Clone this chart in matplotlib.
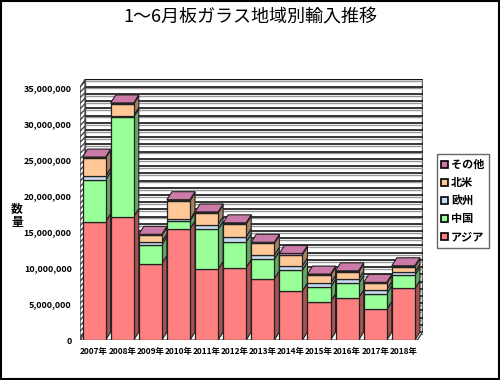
import matplotlib.pyplot as plt
from matplotlib.patches import Polygon, Rectangle
from matplotlib.ticker import FuncFormatter
import matplotlib.colors as mcolors

plt.rcParams['font.family'] = ['Noto Sans CJK JP', 'DejaVu Sans']

years = ['2007年', '2008年', '2009年', '2010年', '2011年', '2012年',
         '2013年', '2014年', '2015年', '2016年', '2017年', '2018年']
asia = [16400000, 17100000, 10600000, 15400000, 9800000, 10050000,
        8500000, 6800000, 5300000, 5850000, 4250000, 7150000]
china = [5800000, 13800000, 2600000, 1100000, 5550000, 3550000,
         2700000, 2900000, 2000000, 2000000, 2200000, 1850000]
europe = [500000, 200000, 400000, 200000, 650000, 700000,
          550000, 600000, 550000, 550000, 550000, 450000]
namerica = [2500000, 1600000, 900000, 2600000, 1600000, 1800000,
            1650000, 1550000, 1150000, 1050000, 850000, 700000]
other = [150000, 150000, 150000, 150000, 150000, 150000,
         150000, 150000, 150000, 150000, 150000, 150000]

series = [('アジア', asia, '#FF8080'),
          ('中国', china, '#99FF99'),
          ('欧州', europe, '#C8DCF0'),
          ('北米', namerica, '#FFC896'),
          ('その他', other, '#CC7AA8')]

def darker(c, f=0.65):
    r, g, b = mcolors.to_rgb(c)
    return (r * f, g * f, b * f)

fig = plt.figure(figsize=(5, 3.8), dpi=100)
fig.patches.append(Rectangle((0.002, 0.002), 0.996, 0.996, transform=fig.transFigure,
                             fill=False, edgecolor='black', linewidth=1.5))
ax = fig.add_axes([0.16, 0.105, 0.686, 0.687])

dx = 0.18
dy = 1100000
width = 0.82
ymax = 35000000
n = len(years)

ax.set_xlim(-0.5, n - 0.5 + dx + 0.02)
ax.set_ylim(0, ymax + dy + 50000)

# walls
ax.add_patch(Rectangle((-0.5 + dx, dy), n, ymax, facecolor='white',
                       edgecolor='#555555', linewidth=1, zorder=0))
for v in range(0, ymax + 1, 1000000):
    ax.plot([-0.5 + dx, n - 0.5 + dx], [v + dy - 250000] * 2, color='#999999', lw=1.0, zorder=1)
    ax.plot([-0.5 + dx, n - 0.5 + dx], [v + dy] * 2, color='black', lw=1.1, zorder=1)
ax.add_patch(Polygon([(-0.5, 0), (-0.5 + dx, dy), (-0.5 + dx, ymax + dy), (-0.5, ymax)],
                     facecolor='white', edgecolor='#444444', hatch='//////', linewidth=1, zorder=2))
ax.add_patch(Polygon([(-0.5, 0), (-0.5 + dx, dy), (n - 0.5 + dx, dy), (n - 0.5, 0)],
                     facecolor='white', edgecolor='#444444', linewidth=1, zorder=2))

# bars
for i in range(n):
    bottom = 0
    x0 = i - width / 2
    x1 = i + width / 2
    for name, vals, col in series:
        top = bottom + vals[i]
        ax.add_patch(Polygon([(x1, bottom), (x1 + dx, bottom + dy), (x1 + dx, top + dy), (x1, top)],
                             facecolor=darker(col), edgecolor='#222222', linewidth=0.8, zorder=3))
        ax.bar(i, vals[i], width=width, bottom=bottom, color=col,
               edgecolor='#222222', linewidth=0.9, zorder=4)
        bottom = top
    ax.add_patch(Polygon([(x0, bottom), (x0 + dx, bottom + dy), (x1 + dx, bottom + dy), (x1, bottom)],
                         facecolor=series[-1][2], edgecolor='#222222', linewidth=0.8, zorder=4))

for s in ax.spines.values():
    s.set_visible(False)
ax.set_xticks(range(n))
ax.set_xticklabels(years, fontsize=6, fontweight='bold')
ax.set_yticks(range(0, ymax + 1, 5000000))
ax.yaxis.set_major_formatter(FuncFormatter(lambda v, p: f'{int(v):,}'))
ax.tick_params(axis='y', labelsize=6.5, length=0, pad=6)
ax.tick_params(axis='x', length=0, pad=5)
for t in ax.get_yticklabels():
    t.set_fontweight('bold')

fig.text(0.5, 0.953, '1～6月板ガラス地域別輸入推移', ha='center', va='center',
         fontsize=13)
fig.text(0.034, 0.434, '数\n量', ha='center', va='center', fontsize=8.5,
         fontweight='bold', linespacing=1.1)

handles = [Rectangle((0, 0), 1, 1, facecolor=c, edgecolor='black', linewidth=1.2)
           for _, _, c in series][::-1]
labels = [nm for nm, _, _ in series][::-1]
leg = fig.legend(handles, labels, loc='upper left', bbox_to_anchor=(0.862, 0.61),
                 fontsize=8, handlelength=0.6, handleheight=0.6, handletextpad=0.3,
                 labelspacing=0.45, borderpad=0.4, fancybox=False, framealpha=1,
                 edgecolor='#666666')
for t in leg.get_texts():
    t.set_fontweight('bold')

plt.savefig('out.png', dpi=100)
